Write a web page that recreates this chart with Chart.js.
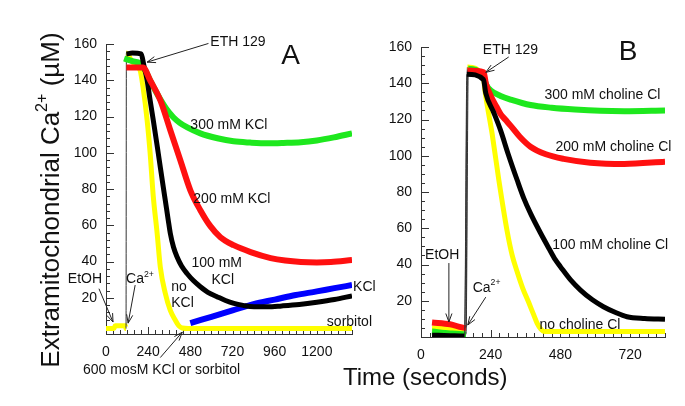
<!DOCTYPE html>
<html>
<head>
<meta charset="utf-8">
<script src="https://cdn.jsdelivr.net/npm/chart.js@4.4.1/dist/chart.umd.min.js"></script>
<style>
  body { margin: 0; background: #fff; width: 685px; height: 406px; position: relative; overflow: hidden; font-family: "Liberation Sans", Arial, sans-serif; }
  #wa { position: absolute; left: 0; top: 0; }
  #wb { position: absolute; left: 375px; top: 0; }
  #xt { position: absolute; left: 343px; top: 363px; font-size: 24px; color: #111; white-space: nowrap; }
</style>
</head>
<body>
<canvas id="wa" width="375" height="406"></canvas>
<canvas id="wb" width="310" height="406"></canvas>
<div id="xt">Time (seconds)</div>
<script>
// tick labels
const xLabelsA = [0, 240, 480, 720, 960, 1200];
const xLabelsB = [0, 240, 480, 720];
const yLabels = [20, 40, 60, 80, 100, 120, 140, 160];

// panel A: [time s, Ca uM]
const noKclA = [[0,3],[45,3],[52,4.5],[110,4.5],[114,3],[116,155],[150,150],[194,145.5],[211,136],[234,118],[251,100],[269,76],[291,55.6],[309,37],[337,22.6],[366,13],[394,7.7],[415,4.5],[434,3.3],[470,3],[1400,3]];
const kcl100A = [[116,154.5],[150,155],[200,154.5],[216,148],[234,140],[251,129],[269,118],[297,100],[326,81],[337,74],[354,63],[366,55.5],[384,48],[404,42.6],[430,37.5],[461,33.4],[497,29.5],[537,26.1],[580,23],[632,20.6],[680,18.5],[728,16.9],[780,15.8],[842,15],[920,15],[1000,15.5],[1100,16.3],[1200,17.5],[1300,19],[1400,21]];
const kcl200A = [[116,147],[194,147],[211,147],[251,140],[309,129],[366,112.4],[423,95.9],[480,79.3],[537,68.3],[594,59.5],[651,53.4],[726,49],[823,45.2],[937,41.9],[1020,40.5],[1109,39.7],[1200,39.5],[1280,39.7],[1400,40.8]];
const kcl300A = [[103,152],[150,150.5],[194,149.3],[220,146],[251,140],[280,134.5],[309,129.5],[345,124],[383,119.6],[420,116.5],[463,114],[537,110.7],[634,108],[726,106.3],[820,105.6],[920,105.2],[1010,105.4],[1109,105.8],[1200,106.8],[1297,108.5],[1400,110.7]];
const kcl600A = [[480,6],[600,9.5],[720,13],[840,16.5],[960,19],[1080,21.5],[1200,23.5],[1300,25.3],[1400,27]];

// panel B
const noCholB = [[38,5],[100,4.5],[150,3.5],[160,149],[215,143],[220,136],[245,112],[268,86.6],[297,58],[314,45],[331,36],[350,27],[371,19],[386,13],[400,7.5],[412,4.5],[425,3],[460,3],[840,3]];
const chol100B = [[38,1],[100,0.7],[150,0.5],[158,145],[215,142],[223,134.5],[250,124],[274,114],[300,101],[331,86.6],[354,76.5],[377,68.2],[411,57.5],[440,49],[463,42.5],[480,38.8],[515,31.5],[549,25.9],[590,20.5],[628,16.7],[670,13.5],[709,11.2],[770,10.2],[840,9.8]];
const chol200B = [[38,8],[100,7],[155,5],[160,147],[216,146],[223,140],[240,133],[260,127],[274,123],[290,120],[309,116.5],[340,110.5],[377,105],[430,100.8],[491,98.3],[583,96.2],[700,95.5],[840,96.7]];
const chol300B = [[38,3],[100,2],[155,1.5],[163,148],[216,143],[225,139],[240,136],[274,133],[309,131],[377,128],[450,126.5],[530,125.5],[617,124.8],[700,124.6],[840,125]];

const FONT = '"Liberation Sans", Arial, sans-serif';

function pts(arr) { return arr.map(p => ({ x: p[0], y: p[1] })); }

// steep Ca2+ addition segment is drawn as a thin trace
const isJump = c => Math.abs(c.p1.parsed.y - c.p0.parsed.y) > 40 && (c.p1.parsed.x - c.p0.parsed.x) < 25;

function series(arr, color, width) {
  return {
    data: pts(arr),
    borderColor: color,
    borderWidth: width,
    pointRadius: 0,
    cubicInterpolationMode: 'monotone',
    segment: {
      borderWidth: c => isJump(c) ? 1 : undefined,
      borderColor: c => isJump(c) ? '#333' : undefined
    }
  };
}

function drawRich(ctx, x, y, parts, size) {
  let cx = x;
  parts.forEach(p => {
    const s = p[1] ? size * 0.62 : size;
    ctx.font = s + 'px ' + FONT;
    ctx.fillText(p[0], cx, p[1] ? y - size * 0.38 : y);
    cx += ctx.measureText(p[0]).width;
  });
  return cx - x;
}

function deco(o) {
  return {
    id: 'deco',
    beforeDatasetsDraw(chart) {
      const ctx = chart.ctx, xs = chart.scales.x, ys = chart.scales.y;
      ctx.save();
      ctx.strokeStyle = '#333';
      ctx.lineWidth = 1;
      ctx.beginPath();
      for (let v = xs.min; v <= xs.max + 0.01; v += o.xMinor) {
        const p = Math.round(xs.getPixelForValue(v)) + 0.5;
        const len = v % 240 === 0 ? 7 : 4;
        ctx.moveTo(p, ys.bottom); ctx.lineTo(p, ys.bottom - len);
      }
      for (let v = ys.min; v <= ys.max + 0.01; v += o.yMinor) {
        const p = Math.round(ys.getPixelForValue(v)) + 0.5;
        const len = v % 20 === 0 ? 8 : 4;
        ctx.moveTo(xs.left, p); ctx.lineTo(xs.left + len, p);
      }
      ctx.stroke();
      ctx.restore();
    },
    afterDraw(chart) {
      const ctx = chart.ctx, xs = chart.scales.x, ys = chart.scales.y;
      const X = v => xs.getPixelForValue(v), Y = v => ys.getPixelForValue(v);
      ctx.save();
      ctx.fillStyle = '#111';
      ctx.strokeStyle = '#222';
      ctx.textBaseline = 'middle';
      ctx.textAlign = 'left';
      o.texts.forEach(t => drawRich(ctx, X(t[0]), Y(t[1]), t[2], 14));
      ctx.lineWidth = 1;
      o.arrows.forEach(a => {
        const x0 = X(a[0]), y0 = Y(a[1]), x1 = X(a[2]), y1 = Y(a[3]);
        const ang = Math.atan2(y1 - y0, x1 - x0);
        ctx.beginPath();
        ctx.moveTo(x0, y0); ctx.lineTo(x1, y1);
        ctx.moveTo(x1 - 9 * Math.cos(ang - 0.35), y1 - 9 * Math.sin(ang - 0.35));
        ctx.lineTo(x1, y1);
        ctx.lineTo(x1 - 9 * Math.cos(ang + 0.35), y1 - 9 * Math.sin(ang + 0.35));
        ctx.stroke();
      });
      ctx.textAlign = 'center';
      ctx.font = '28px ' + FONT;
      ctx.fillText(o.letter[0], X(o.letter[1]), Y(o.letter[2]));
      if (o.yTitle) {
        const sz = 26;
        ctx.translate(52, 200);
        ctx.rotate(-Math.PI / 2);
        ctx.textAlign = 'left';
        const parts = [['Extramitochondrial Ca', 0], ['2+', 1], [' (\u00b5M)', 0]];
        let w = 0;
        parts.forEach(p => { ctx.font = (p[1] ? sz * 0.62 : sz) + 'px ' + FONT; w += ctx.measureText(p[0]).width; });
        drawRich(ctx, -w / 2, 0, parts, sz);
      }
      ctx.restore();
    }
  };
}

function makeChart(id, sets, xMax, xLabels, yWidth, pad, o) {
  return new Chart(document.getElementById(id), {
    type: 'line',
    data: { datasets: sets },
    options: {
      responsive: false,
      animation: false,
      layout: { padding: pad },
      plugins: { legend: { display: false }, tooltip: { enabled: false } },
      scales: {
        x: {
          type: 'linear', min: 0, max: xMax,
          afterBuildTicks: s => { s.ticks = xLabels.map(v => ({ value: v })); },
          afterFit: s => { s.height = 30; },
          grid: { display: false, drawTicks: false },
          border: { display: true, color: '#333', width: 1 },
          ticks: { color: '#111', padding: 10, maxRotation: 0, autoSkip: false, callback: v => String(v), font: { family: FONT, size: 14 } }
        },
        y: {
          min: 0, max: 160,
          afterBuildTicks: s => { s.ticks = yLabels.map(v => ({ value: v })); },
          afterFit: s => { s.width = yWidth; },
          grid: { display: false, drawTicks: false },
          border: { display: true, color: '#333', width: 1 },
          ticks: { color: '#111', padding: 9, callback: v => String(v), font: { family: FONT, size: 14 } }
        }
      }
    },
    plugins: [deco(o)]
  });
}

const ca = () => [['Ca', 0], ['2+', 1]];
const tx = t => [[t, 0]];

makeChart('wa', [
  series(kcl200A, '#ff1010', 6),
  series(kcl100A, '#000000', 5),
  series(kcl300A, '#1ee81e', 6),
  series(noKclA, '#ffff00', 5),
  series(kcl600A, '#0000ff', 6)
], 1400, xLabelsA, 106, { left: 0, right: 23, top: 44, bottom: 42 }, {
  xMinor: 40, yMinor: 4, yTitle: true,
  letter: ['A', 1051, 153],
  texts: [
    [594, 161, tx('ETH 129')],
    [480, 115, tx('300 mM KCl')],
    [497, 74.4, tx('200 mM KCl')],
    [486, 39, tx('100 mM')],
    [600, 29.8, tx('KCl')],
    [371, 26, tx('no')],
    [371, 17, tx('KCl')],
    [1406, 26, tx('KCl')],
    [1257, 6.7, tx('sorbitol')],
    [-217, 30, tx('EtOH')],
    [114, 30, ca()],
    [-131, -20, tx('600 mosM KCl or sorbitol')]
  ],
  arrows: [
    [583, 160.3, 234, 150],
    [-40, 25, 40, 6.6],
    [166, 27, 126, 6],
    [309, -13, 434, 1]
  ]
});

makeChart('wb', [
  series(chol100B, '#000000', 5),
  series(chol200B, '#ff1010', 6),
  series(chol300B, '#1ee81e', 6),
  series(noCholB, '#ffff00', 5)
], 840, xLabelsB, 46, { left: 0, right: 20, top: 47, bottom: 39 }, {
  xMinor: 30, yMinor: 5, yTitle: false,
  letter: ['B', 713, 157],
  texts: [
    [213, 158, tx('ETH 129')],
    [425, 133.5, tx('300 mM choline Cl')],
    [463, 105, tx('200 mM choline Cl')],
    [452, 50.7, tx('100 mM choline Cl')],
    [408, 6.6, tx('no choline Cl')],
    [14, 45, tx('EtOH')],
    [178, 27, ca()]
  ],
  arrows: [
    [302, 154.5, 223, 146],
    [96, 40.8, 96, 8.3],
    [223, 22, 161, 6.6]
  ]
});
</script>
</body>
</html>
